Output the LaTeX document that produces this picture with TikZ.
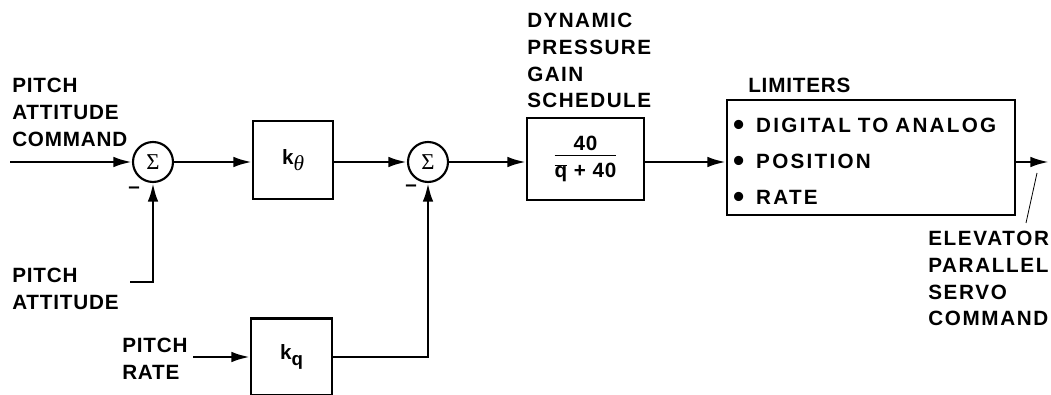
\documentclass[tikz,border=0pt]{standalone}
\usepackage{fontspec}
\setmainfont{Liberation Sans}[LetterSpace=4]
\newfontfamily\greekfont{Liberation Serif}
\usetikzlibrary{arrows.meta}
\newcommand{\limbullet}{{\fontsize{24}{24}\selectfont\raisebox{-2.6pt}{\textbullet}}\hspace{9pt}}

\begin{document}
\begin{tikzpicture}[x=0.75pt,y=-0.75pt,
    font=\fontsize{15.5}{20}\selectfont\bfseries,
    block/.style={draw,line width=1.6pt,inner sep=0pt},
    sumnode/.style={draw,circle,line width=1.6pt,minimum size=30pt,inner sep=0pt,
      font=\fontsize{17}{17}\selectfont\greekfont},
    caption/.style={align=left,inner sep=0pt,anchor=north west},
    signal/.style={line width=2pt,-{Latex[length=14pt,width=8pt]}}]
  \useasboundingbox (0,0) rectangle (1051,395);
  % summing junctions and blocks
  \node[sumnode] (sum1) at (153,162) {Σ};
  \node[sumnode] (sum2) at (428,162) {Σ};
  \node[block,minimum width=60pt,minimum height=58.5pt] (ktheta) at (293,160)
    {k\raisebox{-5pt}{\greekfont\mdseries\itshape\fontsize{16}{16}\selectfont θ}};
  \node[block,minimum width=60.75pt,minimum height=57.75pt] (kq) at (291.5,357)
    {k\raisebox{-5pt}{\fontsize{14}{14}\selectfont q}};
  \node[block,minimum width=87.75pt,minimum height=61.5pt] (gain) at (585.5,159)
    {\begin{tabular}{@{}c@{}}40\\[-3pt]\hline\rule{0pt}{17pt}$\overline{\mbox{q}}$ + 40\end{tabular}};
  \node[block,minimum width=216pt,minimum height=86.25pt,inner sep=4.5pt,text width=207pt,
    align=left,font=\fontsize{15.5}{27}\selectfont\bfseries\addfontfeature{LetterSpace=11}] (lim) at (871,157.5)
    {\rule{0pt}{19pt}\limbullet DIGITAL TO ANALOG\\ \limbullet POSITION\\ \limbullet RATE};
  % texts
  \node[caption] (cmdlabel) at (12,78) {PITCH\\ATTITUDE\\COMMAND};
  \node[caption] (attlabel) at (12,268) {PITCH\\ATTITUDE};
  \node[caption] (ratelabel) at (122,338) {PITCH\\RATE};
  \node[caption,font=\fontsize{15.5}{20}\selectfont\bfseries\addfontfeature{LetterSpace=7}] (gainlabel) at (527,13)
    {DYNAMIC\\PRESSURE\\GAIN\\SCHEDULE};
  \node[caption] (limlabel) at (748,78) {LIMITERS};
  \node[caption,font=\fontsize{15.5}{20}\selectfont\bfseries\addfontfeature{LetterSpace=8}] (servolabel) at (928,231)
    {ELEVATOR\\PARALLEL\\SERVO\\COMMAND};
  \node (minus1) at (134,190) {--};
  \node (minus2) at (411,188) {--};
  % free ends
  \coordinate (cmdin) at (10,162);
  \coordinate (attin) at (130,282);
  \coordinate (ratein) at (193,357);
  \coordinate (out) at (1049,162);
  \coordinate (ptrtop) at (1037,173);
  \coordinate (ptrfoot) at (1026,223);
  % signals
  \draw[signal] (cmdin) -- (sum1);
  \draw[signal] (attin) -| (sum1);
  \draw[signal] (sum1) -- (sum1 -| ktheta.west);
  \draw[signal] (ktheta.east |- sum1) -- (sum2);
  \draw[signal] (ratein) -- (kq);
  \draw[signal] (kq) -| (sum2);
  \draw[signal] (sum2) -- (sum2 -| gain.west);
  \draw[signal] (gain.east |- sum2) -- (lim.west |- sum2);
  \draw[signal] (lim.east |- sum2) -- (out);
  \draw[line width=0.6pt] (ptrfoot) -- (ptrtop);
\end{tikzpicture}
\end{document}
